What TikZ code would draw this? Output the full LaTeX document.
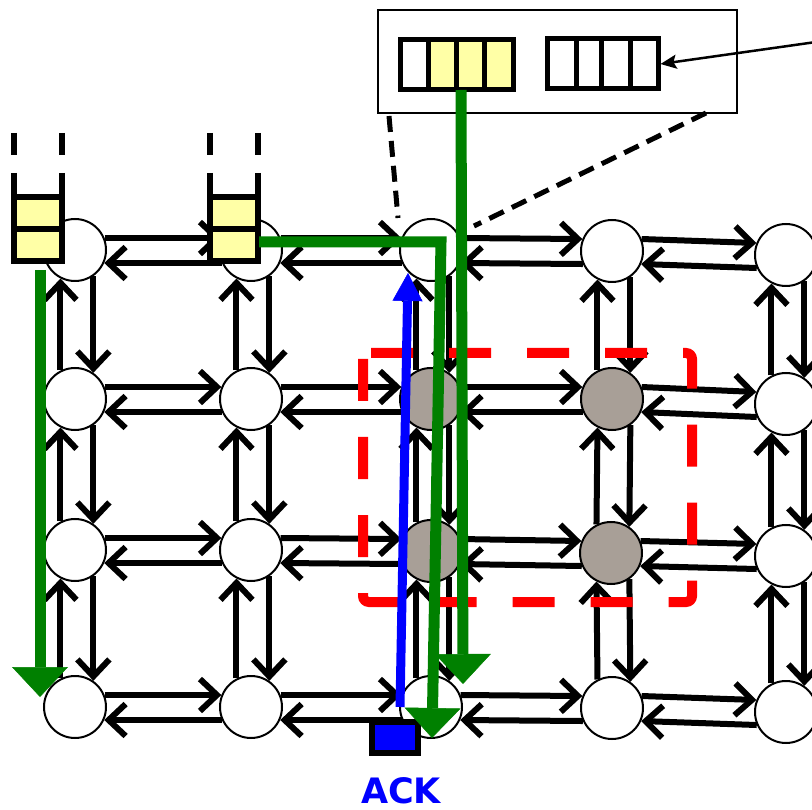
\documentclass[tikz,border=0pt]{standalone}
\usepackage{fontspec}
\setmainfont{DejaVu Sans}
\usetikzlibrary{arrows.meta,calc}
\definecolor{qyellow}{RGB}{255,255,166}
\definecolor{rgray}{RGB}{168,159,151}
\definecolor{pgreen}{RGB}{0,128,0}
\begin{document}
\begin{tikzpicture}[x=1pt,y=-1pt,
  router/.style={circle,draw,line width=2pt,minimum size=62pt,inner sep=0pt,fill=white},
  grouter/.style={router,fill=rgray},
  link/.style={line width=6pt,-{Straight Barb[length=17pt,width=32pt]}},
  bufcell/.style={draw,line width=6pt,fill=qyellow,minimum width=48pt,minimum height=32pt,inner sep=0pt},
  qcell/.style={draw,line width=5pt,inner sep=0pt,minimum height=50pt},
  gline/.style={pgreen,line width=11pt,-{Triangle[length=30pt,width=56pt,line width=0.5pt]}},
  bline/.style={blue,line width=9pt,-{Triangle[length=28pt,width=30pt,line width=0.5pt]}},
  zoomline/.style={line width=5pt,dash pattern=on 16pt off 9pt},
  bufdash/.style={line width=6pt,dash pattern=on 22pt off 18pt}]
\useasboundingbox (0,0) rectangle (812,810);
\clip (0,0) rectangle (812,810);
% routers
\node[router] (n00) at (75,250) {};
\node[router] (n01) at (251,250) {};
\node[router] (n02) at (431,250) {};
\node[router] (n03) at (612,251) {};
\node[router] (n04) at (786,255) {};
\node[router] (n10) at (75,399) {};
\node[router] (n11) at (251,399) {};
\node[grouter] (n12) at (431,399) {};
\node[grouter] (n13) at (612,399) {};
\node[router] (n14) at (786,404) {};
\node[router] (n20) at (75,550) {};
\node[router] (n21) at (251,550) {};
\node[grouter] (n22) at (431,551) {};
\node[grouter] (n23) at (611,553) {};
\node[router] (n24) at (786,556) {};
\node[router] (n30) at (75,707) {};
\node[router] (n31) at (251,707) {};
\node[router] (n32) at (431,707) {};
\node[router] (n33) at (612,708) {};
\node[router] (n34) at (786,712) {};
% links
\foreach \r in {0,...,3}{
  \foreach \c/\d in {0/1,1/2,2/3,3/4}{
    \draw[link] (n\r\c.22) -- (n\r\d.158);
    \draw[link] (n\r\d.204) -- (n\r\c.336);
  }
}
\foreach \c in {0,...,4}{
  \foreach \r/\s in {0/1,1/2,2/3}{
    \draw[link] (n\s\c.117) -- (n\r\c.243);
    \draw[link] (n\r\c.305) -- (n\s\c.55);
  }
}
% red dashed region
\draw[red,line width=10pt,dash pattern=on 42pt off 36pt,rounded corners=6pt]
  (363,353) rectangle (692,602);
% zoom box
\node[draw,line width=2.5pt,minimum width=359pt,minimum height=103pt,inner sep=0pt] (box) at (557.5,61.5) {};
\node[qcell,fill=white,minimum width=28pt] (q1a) at (414,65) {};
\node[qcell,fill=qyellow,minimum width=28pt] (q1b) at (442,65) {};
\node[qcell,fill=qyellow,minimum width=28pt] (q1c) at (470,65) {};
\node[qcell,fill=qyellow,minimum width=29pt] (q1d) at (498.5,65) {};
\node[qcell,fill=white,minimum width=29pt] (q2a) at (561.5,64) {};
\node[qcell,fill=white,minimum width=25pt] (q2b) at (588.5,64) {};
\node[qcell,fill=white,minimum width=29pt] (q2c) at (615.5,64) {};
\node[qcell,fill=white,minimum width=28pt] (q2d) at (644,64) {};
\coordinate (ext) at (816,42);
\draw[line width=2.5pt,-{Stealth[length=16pt,width=14pt,inset=3pt]}] (ext) -- (q2d.east);
\coordinate (zl1) at (389,116);
\coordinate (zl2) at (398,218);
\coordinate (zr1) at (706,113);
\coordinate (zr2) at (474,226);
\draw[zoomline] (zl1) -- (zl2);
\draw[zoomline] (zr1) -- (zr2);
% input buffers
\foreach \x/\n in {38/0,234/1}{
  \draw[bufdash] (\x-24,133) -- (\x-24,200);
  \draw[bufdash] (\x+24,133) -- (\x+24,200);
  \node[bufcell] (b\n a) at (\x,213) {};
  \node[bufcell] (b\n b) at (\x,245) {};
}
% ACK
\node[draw,line width=6pt,fill=blue,minimum width=46pt,minimum height=31pt,inner sep=0pt] (ack) at (395,737) {};
\node[text=blue,font=\bfseries\fontsize{35}{38}\selectfont,inner sep=0pt,anchor=base] (acklbl) at (401,803) {ACK};
% green paths
\coordinate (g1s) at (40,270);
\coordinate (g1e) at (40,697);
\draw[gline] (g1s) -- (g1e);
\coordinate (g2s) at (259,242);
\coordinate (g2c) at (441,242);
\coordinate (g2e) at (432,738);
\draw[gline,line join=miter] (g2s) -- (g2c) -- (g2e);
\coordinate (g3s) at (461,90);
\coordinate (g3e) at (463,684);
\draw[gline] (g3s) -- (g3e);
% blue path
\coordinate (bs) at (400,707);
\coordinate (be) at (408,273);
\draw[bline] (bs) -- (be);
\end{tikzpicture}
\end{document}
